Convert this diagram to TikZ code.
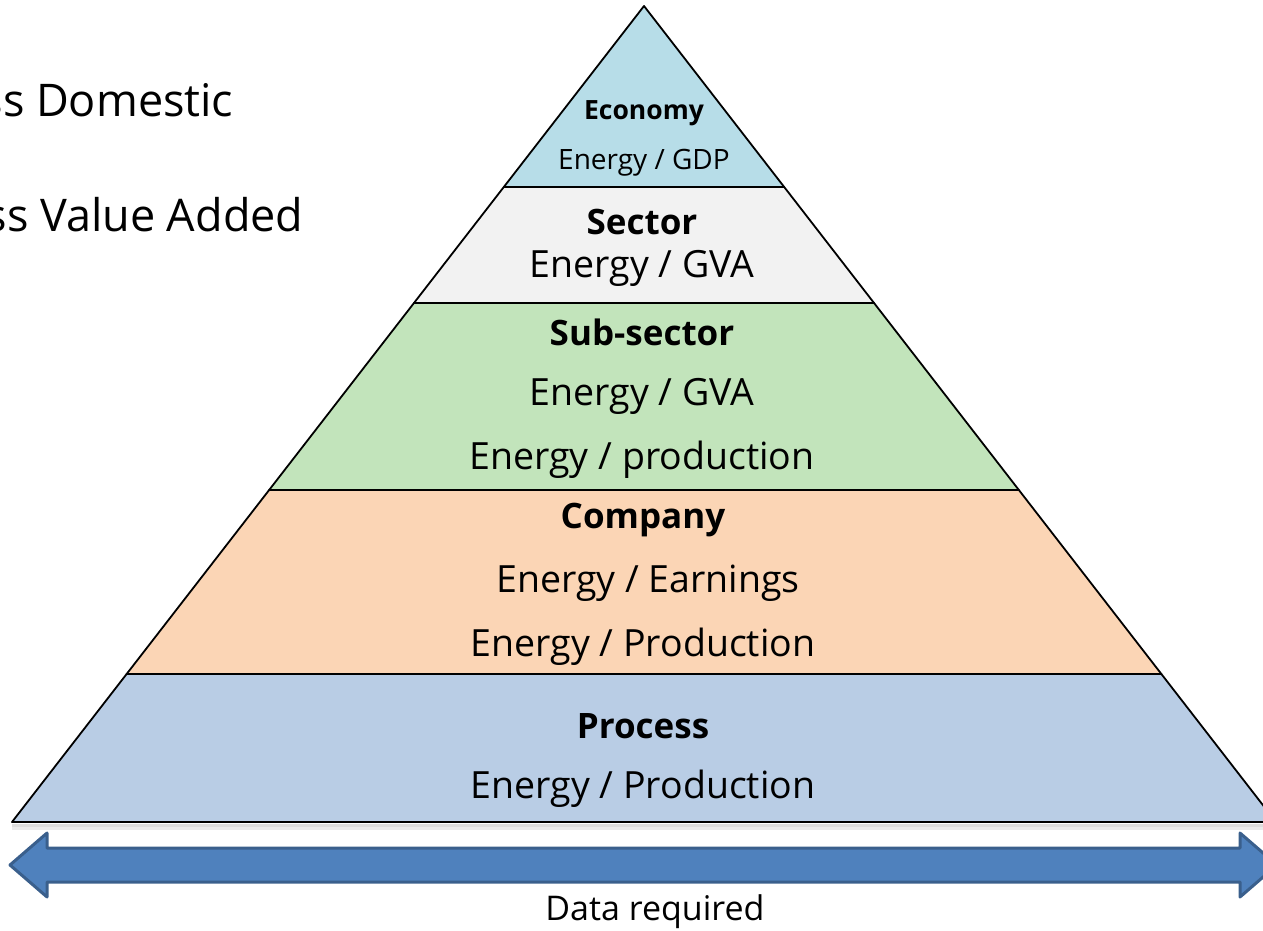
\documentclass[tikz,border=0pt]{standalone}
\usepackage{fontspec}
\setmainfont{Open Sans}
\definecolor{econfill}{HTML}{B7DDE8}
\definecolor{sectfill}{HTML}{F2F2F2}
\definecolor{subfill}{HTML}{C2E4BB}
\definecolor{compfill}{HTML}{FBD5B5}
\definecolor{procfill}{HTML}{B9CDE5}
\definecolor{arrowfill}{HTML}{4F81BD}
\definecolor{arrowline}{HTML}{3A5F8C}
\tikzset{
  layer/.style={draw=black,line width=1.8pt,line join=round},
  title/.style={font=\bfseries\fontsize{35}{40}\selectfont},
  ratio/.style={font=\fontsize{37.5}{42}\selectfont},
}
\begin{document}
\begin{tikzpicture}[x=1pt,y=-1pt]
\useasboundingbox(0,0)rectangle(1263,931);
% pyramid bands, apex at (644,6)
\foreach \ya/\yb/\c in {6/187/econfill,187/303/sectfill,303/490/subfill,490/674/compfill,674/822/procfill}
  \draw[layer,fill=\c]({644-(\ya-6)*0.7745},\ya)--({644+(\ya-6)*0.7745},\ya)
    --({644+(\yb-6)*0.7745},\yb)--({644-(\yb-6)*0.7745},\yb)--cycle;
\fill[black,opacity=.08](12,824)rectangle(1263,830);
\fill[black,opacity=.06](12,824)rectangle(1263,827);
% band texts
\node[title,font=\bfseries\fontsize{26.5}{30}\selectfont](economy)at(644,113){Economy};
\node[ratio,font=\fontsize{28}{32}\selectfont](gdp)at(644,163){Energy / GDP};
\node[title](sector)at(642,222){Sector};
\node[ratio](sectgva)at(642,268){Energy / GVA};
\node[title](subsector)at(642,332){Sub-sector};
\node[ratio](subgva)at(642,396){Energy / GVA};
\node[ratio](subprod)at(642,460){Energy / production};
\node[title](company)at(643,520){Company};
\node[ratio](earnings)at(648,583){Energy / Earnings};
\node[ratio](compprod)at(643,647){Energy / Production};
\node[title](process)at(643,726){Process};
\node[ratio](procprod)at(643,789){Energy / Production};
% cut text on the left
\node[ratio,font=\fontsize{45}{50}\selectfont,anchor=east](gdptext)at(237,100){ss Domestic};
\node[ratio,font=\fontsize{45}{50}\selectfont,anchor=east](gvatext)at(307,215){ss Value Added};
% data arrow
\draw[line width=3pt,draw=arrowline,fill=arrowfill,line join=round]
  (10,865)--(47,833)--++(0,15)--(1240,848)--++(0,-15)--(1277,865)--(1240,897)--++(0,-15)--(47,882)--++(0,15)--cycle;
\node[font=\fontsize{34}{38}\selectfont](data)at(655,912){Data required};
\end{tikzpicture}
\end{document}
